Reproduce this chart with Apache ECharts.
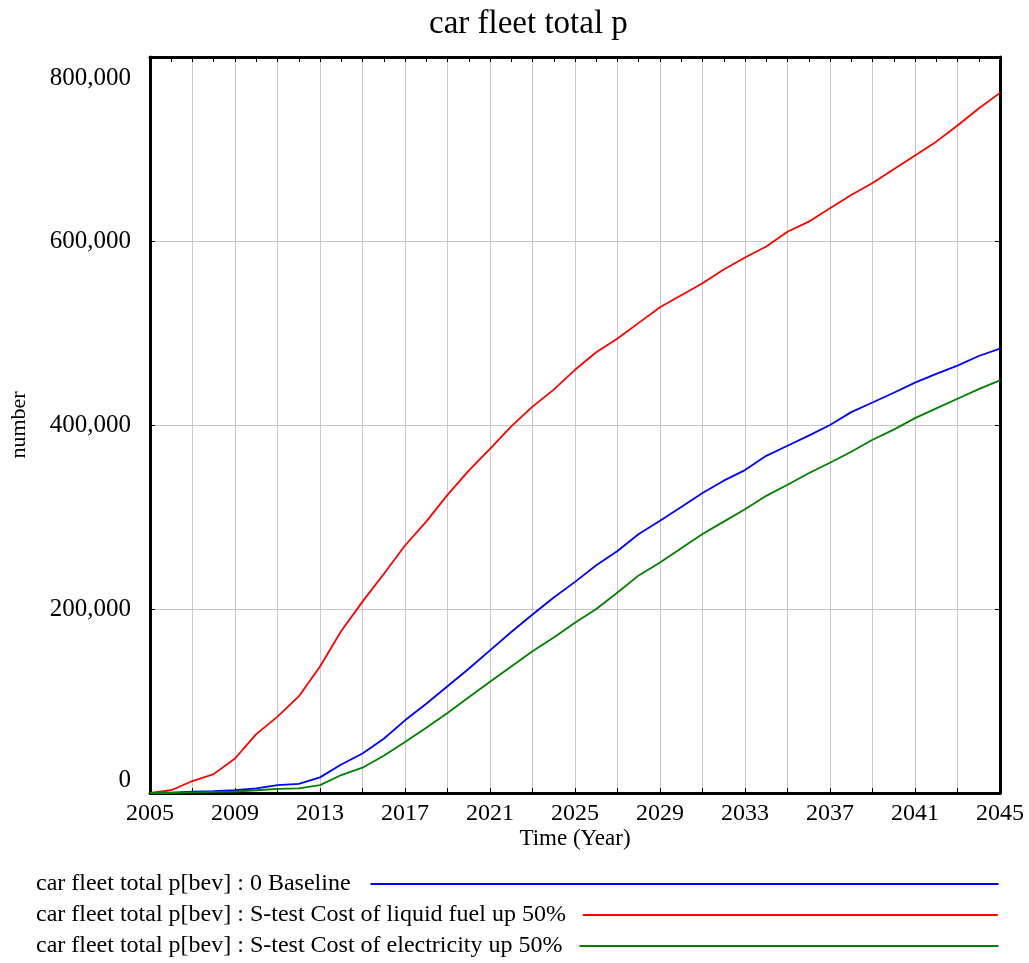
<!DOCTYPE html>
<html>
<head>
<meta charset="utf-8">
<script src="https://cdn.jsdelivr.net/npm/echarts@6/dist/echarts.min.js"></script>
<style>
html,body{margin:0;padding:0;background:#fff;}
#chart{width:1029px;height:963px;}
</style>
</head>
<body>
<div id="chart"></div>
<script>
const years = [2005,2006,2007,2008,2009,2010,2011,2012,2013,2014,2015,2016,2017,2018,2019,2020,2021,2022,2023,2024,2025,2026,2027,2028,2029,2030,2031,2032,2033,2034,2035,2036,2037,2038,2039,2040,2041,2042,2043,2044,2045];
const baseline = [0,500,1500,2000,3000,5000,8500,10000,17000,31000,43000,59000,79000,97000,116000,135000,155000,175000,194000,212500,229500,247500,263000,281500,296000,311000,326000,339500,351000,366500,377500,388500,400000,414000,424500,435000,446000,455500,464500,475000,483000];
const liquidFuelUp = [0,3000,13000,20500,37500,64000,83000,105000,137500,176000,208000,238000,269000,295000,324000,350500,374000,398500,420000,438500,460000,479000,494000,511000,528000,541000,554000,569000,582000,594000,610000,621000,635500,650000,663000,678000,693000,708000,725500,744000,761000];
const electricityUp = [0,0,700,1200,1500,3000,4500,5000,8500,19500,27500,40500,55500,71000,87000,104000,121000,137500,154000,169000,185000,200000,218000,236500,250500,266000,281500,295000,308500,323000,335000,347500,359000,371000,384000,395000,407500,418000,428500,439000,448500];
const xTickLabels = [2005,2009,2013,2017,2021,2025,2029,2033,2037,2041,2045];
const seriesNames = [
  'car fleet total p[bev] : 0 Baseline',
  'car fleet total p[bev] : S-test Cost of liquid fuel up 50%',
  'car fleet total p[bev] : S-test Cost of electricity up 50%'
];
const seriesColors = ['#0000ff', '#ff0000', '#008000'];
const seriesValues = [baseline, liquidFuelUp, electricityUp];

const FONT = "'Liberation Serif', 'Times New Roman', serif";
const chart = echarts.init(document.getElementById('chart'), null, {renderer: 'canvas'});

function fmt(v){ return v.toLocaleString('en-US'); }

const borderLine = {show: true, onZero: false, lineStyle: {color: '#000', width: 3}};

function xAxisBase(extra){
  return Object.assign({
    type: 'value', min: 2005, max: 2045, interval: 2,
    axisLine: borderLine,
    axisTick: {show: true, inside: true, length: 5, lineStyle: {color: '#000', width: 1}},
    minorTick: {show: false},
    minorSplitLine: {show: false},
    splitLine: {show: false}
  }, extra);
}

const legendIconWidths = [628, 415, 419];
const legendTextGaps = [15, 12, 12];

const option = {
  backgroundColor: '#fff',
  textStyle: {fontFamily: FONT, color: '#000'},
  title: {
    text: 'car fleet total p', left: 424, top: 3,
    textStyle: {fontFamily: FONT, fontSize: 33, fontWeight: 'normal', color: '#000'}
  },
  grid: {left: 149, right: 29, top: 57, bottom: 170, show: false, containLabel: false},
  legend: seriesNames.map((n, i) => ({
    data: [n], left: 36, top: 872 + i * 31, padding: 0, align: 'right', orient: 'horizontal',
    icon: 'rect', itemWidth: legendIconWidths[i], itemHeight: 2, selectedMode: false,
    textStyle: {fontFamily: FONT, fontSize: 24, color: '#000', padding: [0, legendTextGaps[i], 0, 0]}
  })),
  xAxis: [
    xAxisBase({
      position: 'bottom',
      name: 'Time (Year)', nameLocation: 'middle', nameGap: 34, nameMoveOverlap: false,
      nameTextStyle: {fontFamily: FONT, fontSize: 23, color: '#000', verticalAlign: 'top'},
      splitLine: {show: true, lineStyle: {color: '#c8c8c8', width: 1}},
      axisLabel: {
        show: true, margin: 9, fontFamily: FONT, fontSize: 24, color: '#000',
        formatter: v => xTickLabels.indexOf(v) >= 0 ? String(v) : ''
      }
    }),
    xAxisBase({position: 'top', interval: 1, axisLabel: {show: false}})
  ],
  yAxis: [
    {
      type: 'value', min: 0, max: 800000, interval: 200000, position: 'left',
      name: 'number', nameLocation: 'middle', nameGap: 120, nameRotate: 90,
      nameTextStyle: {fontFamily: FONT, fontSize: 22, color: '#000'},
      axisLine: borderLine,
      axisTick: {show: true, inside: true, length: 5, lineStyle: {color: '#000'}},
      splitLine: {show: true, lineStyle: {color: '#c8c8c8', width: 1}},
      axisLabel: {
        margin: 19, fontFamily: FONT, fontSize: 25, color: '#000',
        formatter: v => v === 800000 ? '{t|' + fmt(v) + '}' : fmt(v),
        rich: {t: {fontFamily: FONT, fontSize: 25, color: '#000', padding: [9, 0, 0, 0]}},
        verticalAlignMinLabel: 'bottom', verticalAlignMaxLabel: 'top'
      }
    },
    {
      type: 'value', min: 0, max: 800000, interval: 200000, position: 'right',
      axisLine: borderLine,
      axisTick: {show: true, inside: true, length: 5, lineStyle: {color: '#000'}},
      splitLine: {show: false}, axisLabel: {show: false}
    }
  ],
  series: seriesNames.map((n, i) => ({
    name: n, type: 'line', xAxisIndex: 0, yAxisIndex: 0,
    data: years.map((y, k) => [y, seriesValues[i][k]]),
    symbol: 'none', smooth: false,
    lineStyle: {color: seriesColors[i], width: 1.8},
    itemStyle: {color: seriesColors[i]},
    animation: false
  })),
  animation: false
};
chart.setOption(option);
</script>
</body>
</html>
